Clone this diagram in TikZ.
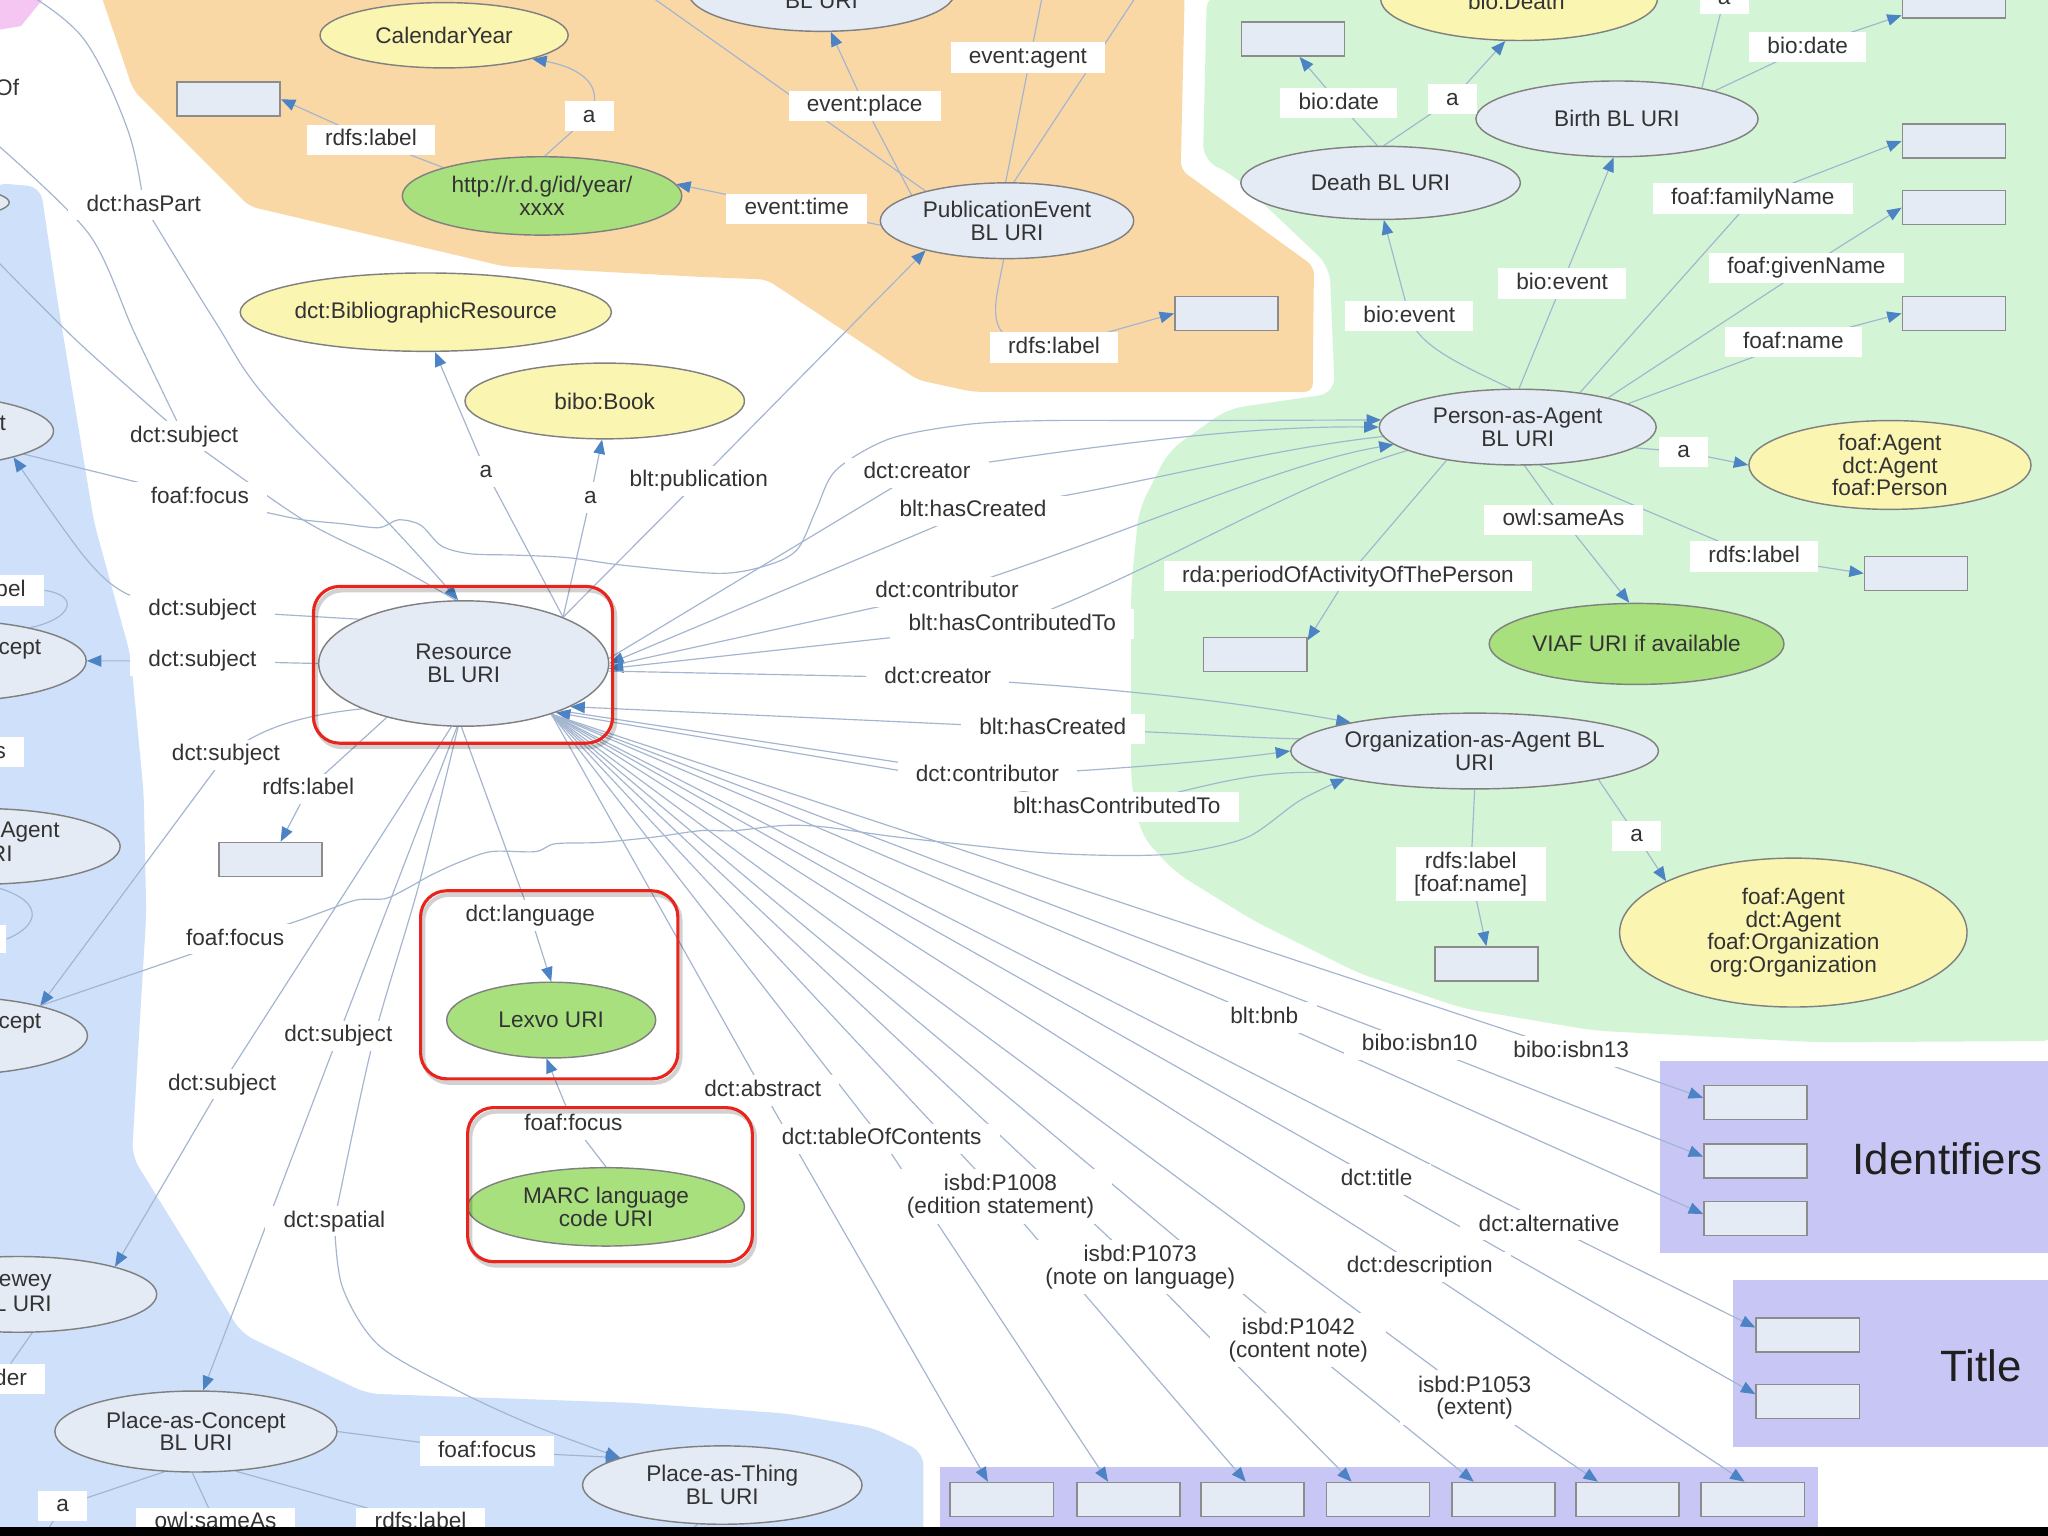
\documentclass[tikz,border=0pt]{standalone}
\usepackage{fontspec}
\setmainfont{Liberation Sans}
\usetikzlibrary{arrows.meta,shapes.geometric}
\pgfdeclarelayer{bg}
\pgfdeclarelayer{ed}
\pgfsetlayers{bg,ed,main}
\definecolor{orgreg}{HTML}{FAD8A6}
\definecolor{grnreg}{HTML}{D3F5D6}
\definecolor{blureg}{HTML}{CFE0FA}
\definecolor{purreg}{HTML}{C8C6F5}
\definecolor{pinkreg}{HTML}{F5C6F2}
\definecolor{blfill}{HTML}{E5EBF5}
\definecolor{yelfill}{HTML}{FBF5B2}
\definecolor{grnfill}{HTML}{A7E07D}
\definecolor{nodeb}{HTML}{808080}
\definecolor{boxb}{HTML}{8C8C8C}
\definecolor{edgec}{HTML}{A3B5CF}
\definecolor{arrc}{HTML}{4B83C4}
\definecolor{txtc}{HTML}{333333}
\definecolor{redc}{HTML}{E8251C}
\newcommand\lblfont{\fontsize{8.65}{8.7}\selectfont}
\begin{document}
\begin{tikzpicture}[x=0.5pt,y=-0.5pt,
  ell/.style 2 args={ellipse, minimum width=#1pt, minimum height=#2pt, inner sep=0pt, draw=nodeb, line width=0.55pt, font=\lblfont, text=txtc, align=center},
  blu/.style={fill=blfill}, yel/.style={fill=yelfill}, grn/.style={fill=grnfill},
  lit/.style={draw=boxb, fill=blfill, minimum width=39.5pt, minimum height=13pt, inner sep=0pt, line width=0.6pt},
  lbl/.style={fill=white, font=\lblfont, text=txtc, inner xsep=7pt, inner ysep=1.8pt, text height=6.3pt, text depth=1.7pt},
  lbltwo/.style={fill=white, font=\lblfont, text=txtc, inner xsep=7pt, inner ysep=2pt, align=center},
  frag/.style={font=\lblfont, text=txtc, inner sep=0pt},
  cnx/.style={draw=edgec, line width=0.45pt},
  arr/.style={-{Triangle[length=5.5pt,width=4.4pt,color=arrc]}},
  redbox/.style={draw=redc, line width=1.2pt, rounded corners=10pt},
  shbox/.style={draw=black, opacity=0.18, line width=1.6pt, rounded corners=10pt}
]
\useasboundingbox (0,0) rectangle (1568,1176);

\begin{pgfonlayer}{bg}
\fill[white] (0,0) rectangle (1568,1176);
\fill[orgreg, rounded corners=3pt] (77,-5) -- (102,69) -- (191,158) -- (386,204) -- (536,212) -- (587,214) -- (703,291) -- (745,300) -- (1005,300) -- (1006,204) -- (904,130) -- (907,-5) -- cycle;
\fill[grnreg, rounded corners=6pt] (924,-5) -- (921,123) -- (943,133) -- (1018,204) -- (1022,301) -- (940,313) -- (895,345) -- (872,390) -- (866,450) -- (866,600) -- (874,640) -- (900,668) -- (960,705) -- (1040,745) -- (1120,772) -- (1220,789) -- (1392,798) -- (1575,797) -- (1575,-5) -- cycle;
\fill[blureg, rounded corners=5pt] (-5,140) -- (31,143) -- (44,230) -- (72,400) -- (100,502) -- (110,607) -- (112,700) -- (106,800) -- (101,885) -- (185,1021) -- (281,1067) -- (483,1074) -- (600,1082) -- (668,1093) -- (707,1112) -- (707,1180) -- (-5,1180) -- cycle;
\fill[pinkreg] (-2,-2) -- (34,-2) -- (16,20) -- (-2,23) -- cycle;
\fill[purreg] (1271,812) rectangle (1572,959);
\fill[purreg] (1327,980) rectangle (1572,1108);
\fill[purreg] (720,1123) rectangle (1392,1172);
\end{pgfonlayer}

% ---------- ellipse nodes ----------
\node[ell={95}{25},yel] (cal) at (340,27) {CalendarYear};
\node[ell={107}{30},grn] (yr) at (415,150) {http://r.d.g/id/year/\\xxxx};
\node[ell={102}{30},blu] (topell) at (629,-6) {};
\node[frag] (topt) at (629,1) {BL URI};
\node[ell={97}{29},blu] (pub) at (771,169) {PublicationEvent\\BL URI};
\node[ell={140}{30},yel] (bibres) at (326,239) {dct:BibliographicResource};
\node[ell={107}{29},yel] (book) at (463,307) {bibo:Book};
\node[ell={106}{32},yel] (death) at (1163,-1) {};
\node[frag] (deatht) at (1161,1) {bio:Death};
\node[ell={107}{28},blu] (dth) at (1057,140) {Death BL URI};
\node[ell={108}{29},blu] (brth) at (1238,91) {Birth BL URI};
\node[ell={106}{29},blu] (per) at (1162,327) {Person-as-Agent\\BL URI};
\node[ell={108}{34},yel] (fap) at (1447,356) {foaf:Agent\\dct:Agent\\foaf:Person};
\node[ell={107}{31},grn] (viaf) at (1253,493) {VIAF URI if available};
\node[ell={128}{29},blu] (org) at (1129,575) {Organization-as-Agent BL\\URI};
\node[ell={133}{57},yel] (fao) at (1373,714) {foaf:Agent\\dct:Agent\\foaf:Organization\\org:Organization};
\node[ell={111}{48},blu] (res) at (355,508) {Resource\\BL URI};
\node[ell={80}{29},grn] (lex) at (422,781) {Lexvo URI};
\node[ell={106}{30},grn] (marc) at (464,924) {MARC language\\code URI};
\node[ell={108}{31},blu] (pac) at (150,1096) {Place-as-Concept\\BL URI};
\node[ell={107}{30},blu] (pat) at (553,1137) {Place-as-Thing\\BL URI};
% partial ellipses at the left edge
\node[ell={67}{13},blu] (e0) at (-60,155) {};
\node[ell={106}{28},blu] (et) at (-65,330) {};
\node[ell={106}{31},blu] (ec1) at (-40,506) {};
\node[ell={107}{29},blu] (eag) at (-15,648) {};
\node[ell={107}{30},blu] (ec2) at (-40,793) {};
\node[ell={106}{29},blu] (edw) at (14,991) {};
\node[frag,anchor=east] (fof) at (15,67) {Of};
\node[frag,anchor=east] (ft) at (5,324) {t};
\node[frag,anchor=east] (fc1) at (32,497) {cept};
\node[frag,anchor=east] (fag) at (46,637) {-Agent};
\node[frag,anchor=east] (fri) at (10,654) {RI};
\node[frag,anchor=east] (fc2) at (32,784) {cept};
\node[frag,anchor=east] (few) at (40,982) {ewey};
\node[frag,anchor=east] (flu) at (40,998) {L URI};

% ---------- literal boxes ----------
\node[lit] (b1) at (175,76) {};
\node[lit] (b2) at (939,240) {};
\node[lit] (b3) at (990,30) {};
\node[lit] (b4) at (1496,1) {};
\node[lit] (b5) at (1496,108) {};
\node[lit] (b6) at (1496,159) {};
\node[lit] (b7) at (1496,240) {};
\node[lit] (b8) at (1467,439) {};
\node[lit] (b9) at (961,501) {};
\node[lit] (b10) at (1138,738) {};
\node[lit] (b11) at (207,658) {};
\node[lit] (id1) at (1344,844) {};
\node[lit] (id2) at (1344,889) {};
\node[lit] (id3) at (1344,933) {};
\node[lit] (t1) at (1384,1022) {};
\node[lit] (t2) at (1384,1073) {};
\node[lit] (bb1) at (767,1148) {};
\node[lit] (bb2) at (864,1148) {};
\node[lit] (bb3) at (959,1148) {};
\node[lit] (bb4) at (1055,1148) {};
\node[lit] (bb5) at (1151,1148) {};
\node[lit] (bb6) at (1246,1148) {};
\node[lit] (bb7) at (1342,1148) {};

\node[font=\fontsize{16.8}{18}\selectfont, text=black!88, anchor=west, inner sep=0pt] (tid) at (1418,887) {Identifiers};
\node[font=\fontsize{16.8}{18}\selectfont, text=black!88, anchor=west, inner sep=0pt] (ttl) at (1485,1046) {Title};

% ---------- edge labels ----------
\node[lbl] (la1) at (451,89) {a};
\node[lbl] (lrl1) at (284,107) {rdfs:label};
\node[lbl] (let) at (610,160) {event:time};
\node[lbl] (lep) at (662,81) {event:place};
\node[lbl] (lev) at (787,44) {event:agent};
\node[lbl] (lrl2) at (807,266) {rdfs:label};
\node[lbl] (lbd1) at (1025,79) {bio:date};
\node[lbl] (lda) at (1112,76) {a};
\node[lbl] (lbd2) at (1384,36) {bio:date};
\node[lbl] (lat) at (1320,-1) {a};
\node[lbl] (lfam) at (1342,152) {foaf:familyName};
\node[lbl] (lgn) at (1383,205) {foaf:givenName};
\node[lbl] (lfn) at (1373,262) {foaf:name};
\node[lbl] (lbe1) at (1196,217) {bio:event};
\node[lbl] (lbe2) at (1079,242) {bio:event};
\node[lbl] (lpa2) at (1289,346) {a};
\node[lbl] (lsa) at (1197,398) {owl:sameAs};
\node[lbl] (lrl4) at (1343,426) {rdfs:label};
\node[lbl] (lrda) at (1032,441) {rda:periodOfActivityOfThePerson};
\node[lbl] (loa) at (1253,640) {a};
\node[lbltwo] (lrlf) at (1126,669) {rdfs:label\\{}[foaf:name]};
\node[lbl] (lhp) at (110,157) {dct:hasPart};
\node[lbl] (lsu1) at (141,334) {dct:subject};
\node[lbl] (lff1) at (153,381) {foaf:focus};
\node[lbl] (la3) at (372,361) {a};
\node[lbl] (la2) at (452,381) {a};
\node[lbl] (lbp) at (535,368) {blt:publication};
\node[lbl] (ldc1) at (702,362) {dct:creator};
\node[lbl] (lhc1) at (745,391) {blt:hasCreated};
\node[lbl] (ldco1) at (725,453) {dct:contributor};
\node[lbl] (lhct1) at (775,478) {blt:hasContributedTo};
\node[lbl] (ldc2) at (718,519) {dct:creator};
\node[lbl] (lhc2) at (806,558) {blt:hasCreated};
\node[lbl] (ldco2) at (756,594) {dct:contributor};
\node[lbl] (lhct2) at (855,618) {blt:hasContributedTo};
\node[lbl] (lsu2) at (155,467) {dct:subject};
\node[lbl] (lsu3) at (155,506) {dct:subject};
\node[lbl] (lsu4) at (173,578) {dct:subject};
\node[lbl] (lrl3) at (236,604) {rdfs:label};
\node[lbl] (lff2) at (180,719) {foaf:focus};
\node[lbl] (llang) at (406,701) {dct:language};
\node[lbl] (lsu5) at (259,793) {dct:subject};
\node[lbl] (lsu6) at (170,830) {dct:subject};
\node[lbl] (lmf) at (439,861) {foaf:focus};
\node[lbl] (labs) at (584,835) {dct:abstract};
\node[lbl] (ltoc) at (675,872) {dct:tableOfContents};
\node[lbltwo] (l1008) at (766,916) {isbd:P1008\\(edition statement)};
\node[lbltwo] (l1073) at (873,970) {isbd:P1073\\(note on language)};
\node[lbltwo] (l1042) at (994,1026) {isbd:P1042\\(content note)};
\node[lbltwo] (l1053) at (1129,1070) {isbd:P1053\\(extent)};
\node[lbl] (lsp) at (256,935) {dct:spatial};
\node[lbl] (lbnb) at (968,779) {blt:bnb};
\node[lbl] (li10) at (1087,800) {bibo:isbn10};
\node[lbl] (li13) at (1203,805) {bibo:isbn13};
\node[lbl] (ltit) at (1054,903) {dct:title};
\node[lbl] (lalt) at (1186,938) {dct:alternative};
\node[lbl] (ldesc) at (1087,970) {dct:description};
\node[lbl] (lpf) at (373,1111) {foaf:focus};
\node[lbl] (lpa3) at (48,1153) {a};
\node[lbl] (lpo) at (165,1166) {owl:sameAs};
\node[lbl] (lpr5) at (322,1166) {rdfs:label};
\node[lbl,anchor=east] (lbel) at (34,452) {bel};
\node[lbl,anchor=east] (ls) at (19,576) {s};
\node[lbl,anchor=east] (lder) at (35,1056) {der};
\node[fill=white, minimum width=5pt, minimum height=11pt, inner sep=0pt, anchor=east] (lagb) at (5,719) {};

% free ends
\coordinate (ctl) at (498,-3);
\coordinate (cag1) at (798,-3);
\coordinate (cag2) at (870,-3);
\coordinate (cA) at (24,-3);
\coordinate (cB) at (-3,110);
\coordinate (cC) at (-3,199);
\coordinate (ca1) at (28,1185);
\coordinate (cpt) at (512,1185);

% ---------- connectors ----------
\begin{pgfonlayer}{ed}
% orange area
\draw[cnx] (yr.86) -- (la1.center);
\draw[cnx,arr] (la1.center) .. controls (464,66) and (445,52) .. (cal.-15);
\draw[cnx,arr] (yr.164) -- (lrl1.center) -- (b1.east);
\draw[cnx,arr] (pub.182) -- (let.center) -- (yr.5);
\draw[cnx,arr] (pub.165) -- (lep.center) -- (topell.-77);
\draw[cnx] (pub.160) -- (ctl);
\draw[cnx] (pub.92) -- (cag1);
\draw[cnx] (pub.80) -- (cag2);
\draw[cnx] (pub.-95) .. controls (762,235) and (748,266) .. (lrl2.center);
\draw[cnx,arr] (lrl2.center) -- (b2.west);
% green area: person
\draw[cnx,arr] (per.-10) -- (lpa2.center) -- (fap.west);
\draw[cnx,arr] (per.-80) -- (lsa.center) -- (viaf.100);
\draw[cnx,arr] (per.-60) -- (lrl4.center) -- (b8.west);
\draw[cnx,arr] (per.-155) -- (lrda.center) -- (b9.15);
\draw[cnx,arr] (per.12) -- (lfn.center) -- (b7.west);
\draw[cnx,arr] (per.18) -- (lgn.center) -- (b6.west);
\draw[cnx,arr] (per.29) -- (lfam.center) -- (b5.west);
\draw[cnx,arr] (per.88) -- (lbe1.center) -- (brth.-95);
\draw[cnx] (per.100) .. controls (1120,280) and (1085,265) .. (lbe2.center);
\draw[cnx,arr] (lbe2.center) -- (dth.-85);
\draw[cnx,arr] (dth.95) -- (lbd1.center) -- (b3.-70);
\draw[cnx,arr] (dth.85) -- (lda.center) -- (death.-108);
\draw[cnx,arr] (brth.16) -- (lbd2.center) -- (b4.195);
\draw[cnx] (brth.20) -- (lat.center);
% organization
\draw[cnx,arr] (org.-90) -- (lrlf.center) -- (b10.north);
\draw[cnx,arr] (org.-13) -- (loa.center) -- (fao.158);
% resource <-> person
\draw[cnx] (res.2) -- (ldc1.center);
\draw[cnx,arr] (ldc1.center) .. controls (860,338) and (960,326) .. (per.180);
\draw[cnx] (per.184) .. controls (960,345) and (860,375) .. (lhc1.center);
\draw[cnx,arr] (lhc1.center) -- (res.0);
\draw[cnx] (res.-1) -- (ldco1.center);
\draw[cnx,arr] (ldco1.center) .. controls (860,410) and (980,355) .. (per.188);
\draw[cnx] (per.192) .. controls (990,370) and (880,440) .. (lhct1.center);
\draw[cnx,arr] (lhct1.center) -- (res.-2);
% resource <-> organization
\draw[cnx] (res.-3) -- (ldc2.center);
\draw[cnx,arr] (ldc2.center) .. controls (880,528) and (960,540) .. (org.167);
\draw[cnx] (org.176) .. controls (950,565) and (900,560) .. (lhc2.center);
\draw[cnx,arr] (lhc2.center) -- (res.-22);
\draw[cnx] (res.-26) -- (ldco2.center);
\draw[cnx,arr] (ldco2.center) .. controls (880,588) and (950,580) .. (org.180);
\draw[cnx] (org.-172) .. controls (960,590) and (930,600) .. (lhct2.center);
\draw[cnx,arr] (lhct2.center) -- (res.-28);
% fan to literal boxes
\foreach \lab/\tgt in {lbnb/id3.175, li10/id2.175, li13/id1.175, ltit/t2.172, lalt/t1.172, labs/bb1.128, ltoc/bb2.139, l1008/bb3.111, l1073/bb4.146, l1042/bb5.149, l1053/bb6.149, ldesc/bb7.115}
  {\draw[cnx,arr] (res.-30) -- (\lab.center) -- (\tgt);}
% resource upwards
\draw[cnx,arr] (res.25) -- (lbp.center) -- (pub.200);
\draw[cnx,arr] (res.25) -- (la2.center) -- (book.-94);
\draw[cnx,arr] (res.25) -- (la3.center) -- (bibres.-77);
% upper left lines into resource
\draw[cnx] plot[smooth,tension=0.6] coordinates {(cA) (65,31) (98,100) (lhp.center)};
\draw[cnx,arr] plot[smooth,tension=0.6] coordinates {(lhp.center) (164,245) (205,306) (297,400) (res.95)};
\draw[cnx] plot[smooth] coordinates {(cB) (68,179) (103,255) (lsu1.center)};
\draw[cnx] plot[smooth] coordinates {(cC) (60,262) (lsu1.center)};
\draw[cnx] plot[smooth] coordinates {(lsu1.center) (232,398) (300,432) (res.97)};
% foaf:focus (wavy) to person
\draw[cnx] (et.-12) -- (lff1.center);
\draw[cnx,arr] plot[smooth,tension=0.5] coordinates {(lff1.center) (207,393) (232,398) (262,401) (290,404) (305,398) (322,402) (338,418) (360,424) (394,425) (435,427) (479,433) (552,439) (590,432) (611,420) (625,390) (640,360) (681,336) (740,325) (801,322) (900,322) (per.177)};
% left concepts
\draw[cnx] (res.157) -- (lsu2.center);
\draw[cnx,arr] plot[smooth] coordinates {(lsu2.center) (100,456) (66,428) (et.-15)};
\draw[cnx,arr] (res.west) -- (lsu3.center) -- (ec1.east);
\draw[cnx] (lbel.east) .. controls (62,456) and (55,474) .. (ec1.22);
\draw[cnx] (res.204) .. controls (225,548) and (196,560) .. (lsu4.center);
\draw[cnx,arr] (lsu4.center) -- (ec2.18);
\draw[cnx,arr] (res.-145) -- (lrl3.center) -- (b11.60);
\draw[cnx] (ec2.18) -- (lff2.center);
\draw[cnx,arr] plot[smooth,tension=0.5] coordinates {(lff2.center) (222,707) (250,697) (273,689) (295,688) (312,680) (330,670) (352,660) (376,652) (410,652) (425,646) (459,645) (500,641) (536,636) (562,636) (600,632) (630,633) (680,640) (733,646) (801,653) (860,655) (904,653) (955,641) (995,613) (org.-168)};
\draw[cnx] (eag.-80) .. controls (35,688) and (32,708) .. (lagb.east);
\draw[cnx] (edw.-70) -- (lder.north);
% language
\draw[cnx,arr] (res.-92) -- (llang.center) -- (lex.north);
\draw[cnx,arr] (marc.north) -- (lmf.center) -- (lex.-97);
% places
\draw[cnx,arr] (res.-96) -- (lsu5.center) -- (pac.80);
\draw[cnx,arr] (res.-101) -- (lsu6.center) -- (edw.16);
\draw[cnx] plot[smooth] coordinates {(res.-95) (320,680) (285,800) (lsp.center)};
\draw[cnx,arr] plot[smooth] coordinates {(lsp.center) (262,985) (290,1030) (351,1065) (410,1092) (pat.165)};
\draw[cnx,arr] (pac.east) -- (lpf.center) -- (pat.165);
\draw[cnx] (pac.-128) -- (lpa3.center) -- (ca1);
\draw[cnx] (pac.-95) -- (lpo.center);
\draw[cnx] (pac.-45) -- (lpr5.center);
\draw[cnx] (pat.-122) -- (cpt);
\end{pgfonlayer}

% ---------- highlight frames ----------
\draw[shbox] (242,452) rectangle (471,572);
\draw[shbox] (324,685) rectangle (521,829);
\draw[shbox] (360,851) rectangle (578,969);
\draw[redbox] (240,449) rectangle (469,569);
\draw[redbox] (322,682) rectangle (519,826);
\draw[redbox] (358,848) rectangle (576,966);

\fill[black] (0,1169) rectangle (1570,1180);
\end{tikzpicture}
\end{document}
